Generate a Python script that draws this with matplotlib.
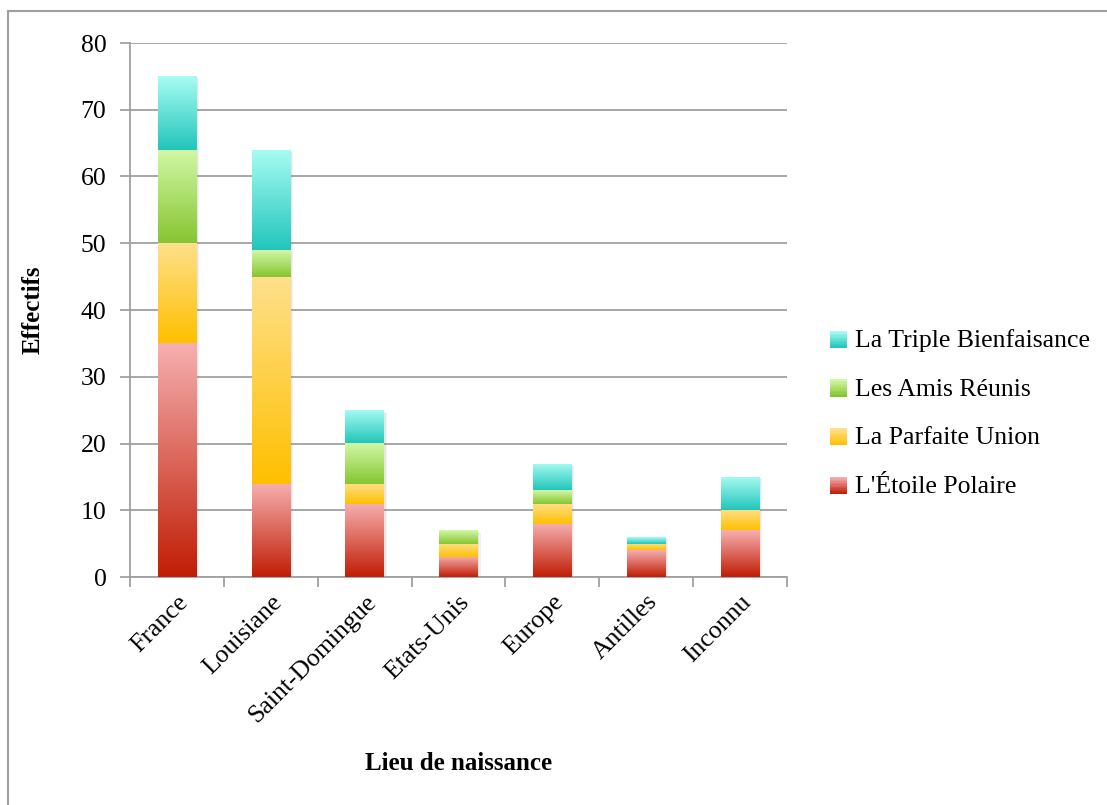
import numpy as np
import matplotlib
matplotlib.use("Agg")
import matplotlib.pyplot as plt
from matplotlib.colors import LinearSegmentedColormap
from matplotlib.legend_handler import HandlerBase
from matplotlib.patches import Rectangle
from matplotlib.lines import Line2D

plt.rcParams["font.family"] = ["Liberation Serif", "DejaVu Serif"]

lieux = ["France", "Louisiane", "Saint-Domingue", "Etats-Unis", "Europe", "Antilles", "Inconnu"]
etoile_polaire = [35, 14, 11, 3, 8, 4, 7]
parfaite_union = [15, 31, 3, 2, 3, 1, 3]
amis_reunis = [14, 4, 6, 2, 2, 0, 0]
triple_bienfaisance = [11, 15, 5, 0, 4, 1, 5]

series = [
    ("L'Étoile Polaire", etoile_polaire, ("#f6b0b0", "#c01d05")),
    ("La Parfaite Union", parfaite_union, ("#fee08c", "#ffc000")),
    ("Les Amis Réunis", amis_reunis, ("#d2f8a6", "#86c531")),
    ("La Triple Bienfaisance", triple_bienfaisance, ("#a8fcf2", "#22c5bb")),
]

fig = plt.figure(figsize=(11.07, 8.05), dpi=100)
ax = fig.add_axes([130 / 1107, 1 - 577 / 805, 657 / 1107, 534 / 805])

# frame lines along the top and left of the chart area
fig.add_artist(Line2D([8 / 1107, 1], [1 - 11 / 805] * 2, color="#a0a0a0", lw=1.5,
                      transform=fig.transFigure))
fig.add_artist(Line2D([8 / 1107] * 2, [0, 1 - 11 / 805], color="#a0a0a0", lw=1.5,
                      transform=fig.transFigure))

x = np.arange(len(lieux))
width = 0.41
grad = np.linspace(0, 1, 256).reshape(-1, 1)
bottom = np.zeros(len(lieux))
for name, vals, (top_c, bot_c) in series:
    cmap = LinearSegmentedColormap.from_list(name, [bot_c, top_c])
    bars = ax.bar(x, vals, width, bottom=bottom, color=bot_c, label=name,
                  linewidth=0, zorder=3)
    for patch in bars:
        h = patch.get_height()
        if h <= 0:
            continue
        x0, y0 = patch.get_x(), patch.get_y()
        w = patch.get_width()
        # soft drop shadow
        for k, a in [(0.06, 0.10), (0.035, 0.10)]:
            ax.add_patch(Rectangle((x0 + k * 0.5, y0 - k * 6), w, h, color="#808080",
                                   alpha=a, lw=0, zorder=2))
        im = ax.imshow(grad, extent=[x0, x0 + w, y0, y0 + h], origin="lower",
                       aspect="auto", cmap=cmap, zorder=4, interpolation="bilinear")
        im.set_clip_path(patch)
    bottom += np.array(vals)

ax.set_xlim(-0.5, len(lieux) - 0.5)
ax.set_ylim(0, 80)
ax.set_yticks(range(0, 81, 10))
ax.set_xticks(x)
ax.set_xticklabels(lieux, rotation=45, ha="right", rotation_mode="anchor", fontsize=18.5)
ax.tick_params(axis="x", length=0, pad=10)
ax.set_xticks(np.arange(-0.5, len(lieux)), minor=True)
ax.tick_params(axis="x", which="minor", length=7, color="#a0a0a0", width=1.3)
ax.tick_params(axis="y", labelsize=18.5, length=7, color="#a0a0a0", width=1.3, pad=10)
ax.grid(axis="y", color="#a0a0a0", lw=1.3, zorder=0)
ax.set_axisbelow(True)
for s in ["top", "right"]:
    ax.spines[s].set_visible(False)
for s in ["left", "bottom"]:
    ax.spines[s].set_color("#a0a0a0")
    ax.spines[s].set_linewidth(1.3)

ax.set_ylabel("Effectifs", fontsize=18, fontweight="bold", labelpad=26)
ax.set_xlabel("Lieu de naissance", fontsize=18, fontweight="bold", labelpad=18)


class GradientHandler(HandlerBase):
    def __init__(self, colors):
        super().__init__()
        self.colors = colors

    def create_artists(self, legend, orig_handle, xdescent, ydescent, width, height,
                       fontsize, trans):
        top_c, bot_c = self.colors[orig_handle.get_label()]
        cmap = LinearSegmentedColormap.from_list("g", [bot_c, top_c])
        n = 12
        side = height * 0.95
        y0 = -ydescent + (height - side) / 2 - 1
        arts = []
        for i in range(n):
            arts.append(Rectangle((-xdescent, y0 + side * i / n), side,
                                  side / n + 0.2, color=cmap(i / (n - 1)), lw=0,
                                  transform=trans))
        return arts


handles, labels = ax.get_legend_handles_labels()
colors = {name: c for name, _, c in series}
leg = ax.legend(handles[::-1], labels[::-1], loc="center left", bbox_to_anchor=(1.065, 0.306),
                frameon=False, fontsize=18.5, handlelength=0.75, handletextpad=0.25,
                labelspacing=1.0, borderpad=0, borderaxespad=0,
                handler_map={h: GradientHandler(colors) for h in handles})

fig.savefig("out.png", dpi=100)
